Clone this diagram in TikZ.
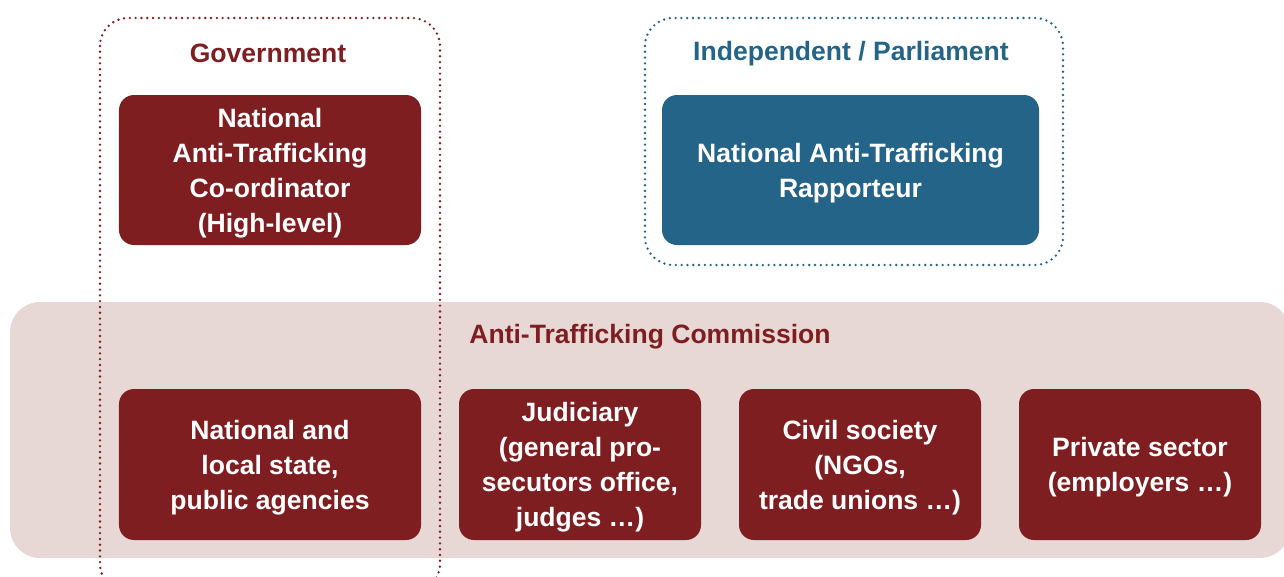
\documentclass[tikz,border=0pt]{standalone}
\usepackage{fontspec}
\setmainfont{Liberation Sans}
\definecolor{darkred}{HTML}{7E1E21}
\definecolor{bluebox}{HTML}{246488}
\definecolor{bandpink}{HTML}{E8D8D5}
\tikzset{
  boxbase/.style={rectangle, rounded corners=3mm, inner sep=0pt},
  redbox/.style={boxbase, fill=darkred},
  bluefill/.style={boxbase, fill=bluebox},
  boxtext/.style={inner sep=0pt, align=center, text=white,
    font=\fontsize{15.1}{19.9}\selectfont\bfseries},
  grouplabel/.style={font=\fontsize{15.1}{19.9}\selectfont\bfseries, inner sep=0pt},
  dotline/.style={line width=1.5pt, dash pattern=on 0pt off 3.3pt, line cap=round, rounded corners=5.6mm}
}
\begin{document}
\begin{tikzpicture}[x=0.2mm,y=-0.2mm]
\useasboundingbox (0,0) rectangle (1284,576);
\clip (0,0) rectangle (1284,576);
% commission band
\fill[bandpink, rounded corners=6mm] (10,302) rectangle (1290,558);
\node[grouplabel, text=darkred] (comlabel) at (650,336.5) {Anti-Trafficking Commission};
% dotted group frames
\draw[dotline, darkred] (100,18) rectangle (440,592);
\draw[dotline, bluebox] (645,18) rectangle (1063,265);
\node[grouplabel, text=darkred] (govlabel) at (268,53.5) {Government};
\node[grouplabel, text=bluebox] (indlabel) at (851,53.5) {Independent / Parliament};
% top boxes
\node[redbox, minimum width=60.4mm, minimum height=30mm] (coord) at (270,170) {};
\node[boxtext] (coordt) at ([yshift=-0.6mm]coord.center)
  {National\\Anti-Trafficking\\Co-ordinator\\(High-level)};
\node[bluefill, minimum width=75.4mm, minimum height=30mm] (rapp) at (850.5,170) {};
\node[boxtext] (rappt) at ([yshift=-0.6mm]rapp.center)
  {National Anti-Trafficking\\Rapporteur};
% bottom boxes
\node[redbox, minimum width=60.4mm, minimum height=30.2mm] (state) at (270,464.5) {};
\node[boxtext] (statet) at ([yshift=-0.6mm]state.center)
  {National and\\local state,\\public agencies};
\node[redbox, minimum width=48.4mm, minimum height=30.2mm] (jud) at (580,464.5) {};
\node[boxtext] (judt) at ([yshift=-0.6mm]jud.center)
  {Judiciary\\(general pro-\\secutors office,\\judges \dots)};
\node[redbox, minimum width=48.4mm, minimum height=30.2mm] (civ) at (860,464.5) {};
\node[boxtext] (civt) at ([yshift=-0.6mm]civ.center)
  {Civil society\\(NGOs,\\trade unions \dots)};
\node[redbox, minimum width=48.4mm, minimum height=30.2mm] (priv) at (1140,464.5) {};
\node[boxtext] (privt) at ([yshift=-0.6mm]priv.center)
  {Private sector\\(employers \dots)};
\end{tikzpicture}
\end{document}
